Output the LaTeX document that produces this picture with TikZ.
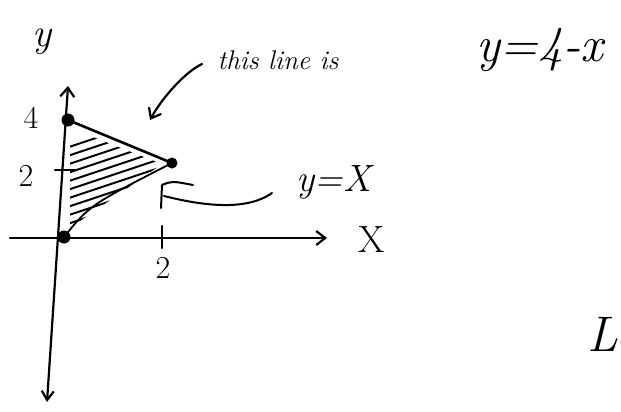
\documentclass[tikz,border=0pt]{standalone}
\usepackage{fontspec}
\usetikzlibrary{arrows.meta}
\begin{document}
\begin{tikzpicture}[x=1pt,y=-1pt,line width=2.2pt,line cap=round,line join=round,
  hand/.style={font=\fontsize{28}{32}\selectfont\itshape,inner sep=0pt},
  handup/.style={font=\fontsize{32}{36}\selectfont,inner sep=0pt},
  dot/.style={circle,fill,inner sep=0pt,minimum size=13pt},
  barb/.style={-{Straight Barb[length=9pt,width=14pt]}}]
\useasboundingbox (0,0) rectangle (621,412);
\clip (0,0) rectangle (621,412);
% points
\node[dot] (o) at (64,237) {};
\node[dot] (a) at (68,120) {};
\node[dot,minimum size=11pt] (b) at (172,163) {};
% axes
\coordinate (ybot) at (47,402);
\coordinate (ytop) at (68,86);
\coordinate (xl) at (10,238);
\coordinate (xr) at (327,238);
\draw[{Straight Barb[length=9pt,width=12pt]}-{Straight Barb[length=9pt,width=14pt]}] (ybot) -- (ytop);
\draw[barb] (xl) -- (xr);
% triangle
\draw[line width=2.6pt] (a.center) -- (b.center);
\draw[line width=1.8pt] (o.center) .. controls (90,205) .. (b.center);
% ticks
\coordinate (tx1) at (162,226); \coordinate (tx2) at (162,248);
\draw (tx1) -- (tx2);
\coordinate (ty1) at (55,170); \coordinate (ty2) at (76,170);
\draw (ty1) -- (ty2);
% hatching
\begin{scope}
\clip (70,128) -- (162,164) -- (70,228) -- cycle;
\foreach \i in {0,...,11} {
  \draw[line width=2pt] (60,150+\i*8.5) -- (180,110+\i*8.5);
}
\end{scope}
% labels
\node[hand,font=\fontsize{40}{44}\selectfont\itshape] (ylab) at (42,42) {y};
\node[handup] (l4) at (31,118) {4};
\node[handup] (l2y) at (26,176) {2};
\node[handup] (l2x) at (163,268) {2};
\node[handup,font=\fontsize{38}{40}\selectfont] (xlab) at (372,240) {X};
\node[hand,font=\fontsize{38}{42}\selectfont\itshape] (yx) at (334,182) {y=X};
\node[hand,font=\fontsize{27}{32}\selectfont\itshape] (this) at (278,60) {this line is};
\node[hand,font=\fontsize{50}{54}\selectfont\itshape] (eq) at (540,50) {y=4-x};
\node[font=\fontsize{50}{54}\selectfont\itshape,anchor=west,inner sep=0pt] (le) at (586,335) {Le};
% arrow to line y=4-x
\coordinate (arrS) at (202,64);
\coordinate (arrE) at (150,120);
\draw[barb] (arrS) .. controls (185,72) and (162,98) .. (arrE);
% curved arrow to line y=x
\coordinate (cS) at (272,193);
\coordinate (cE) at (164,196);
\coordinate (h1) at (161,208);
\coordinate (h2) at (162,185);
\coordinate (h3) at (193,185);
\draw[line width=2pt] (cS) .. controls (245,212) and (200,205) .. (cE);
\draw[line width=2pt] (h1) -- (h2) .. controls (172,181) .. (h3);
\end{tikzpicture}
\end{document}
